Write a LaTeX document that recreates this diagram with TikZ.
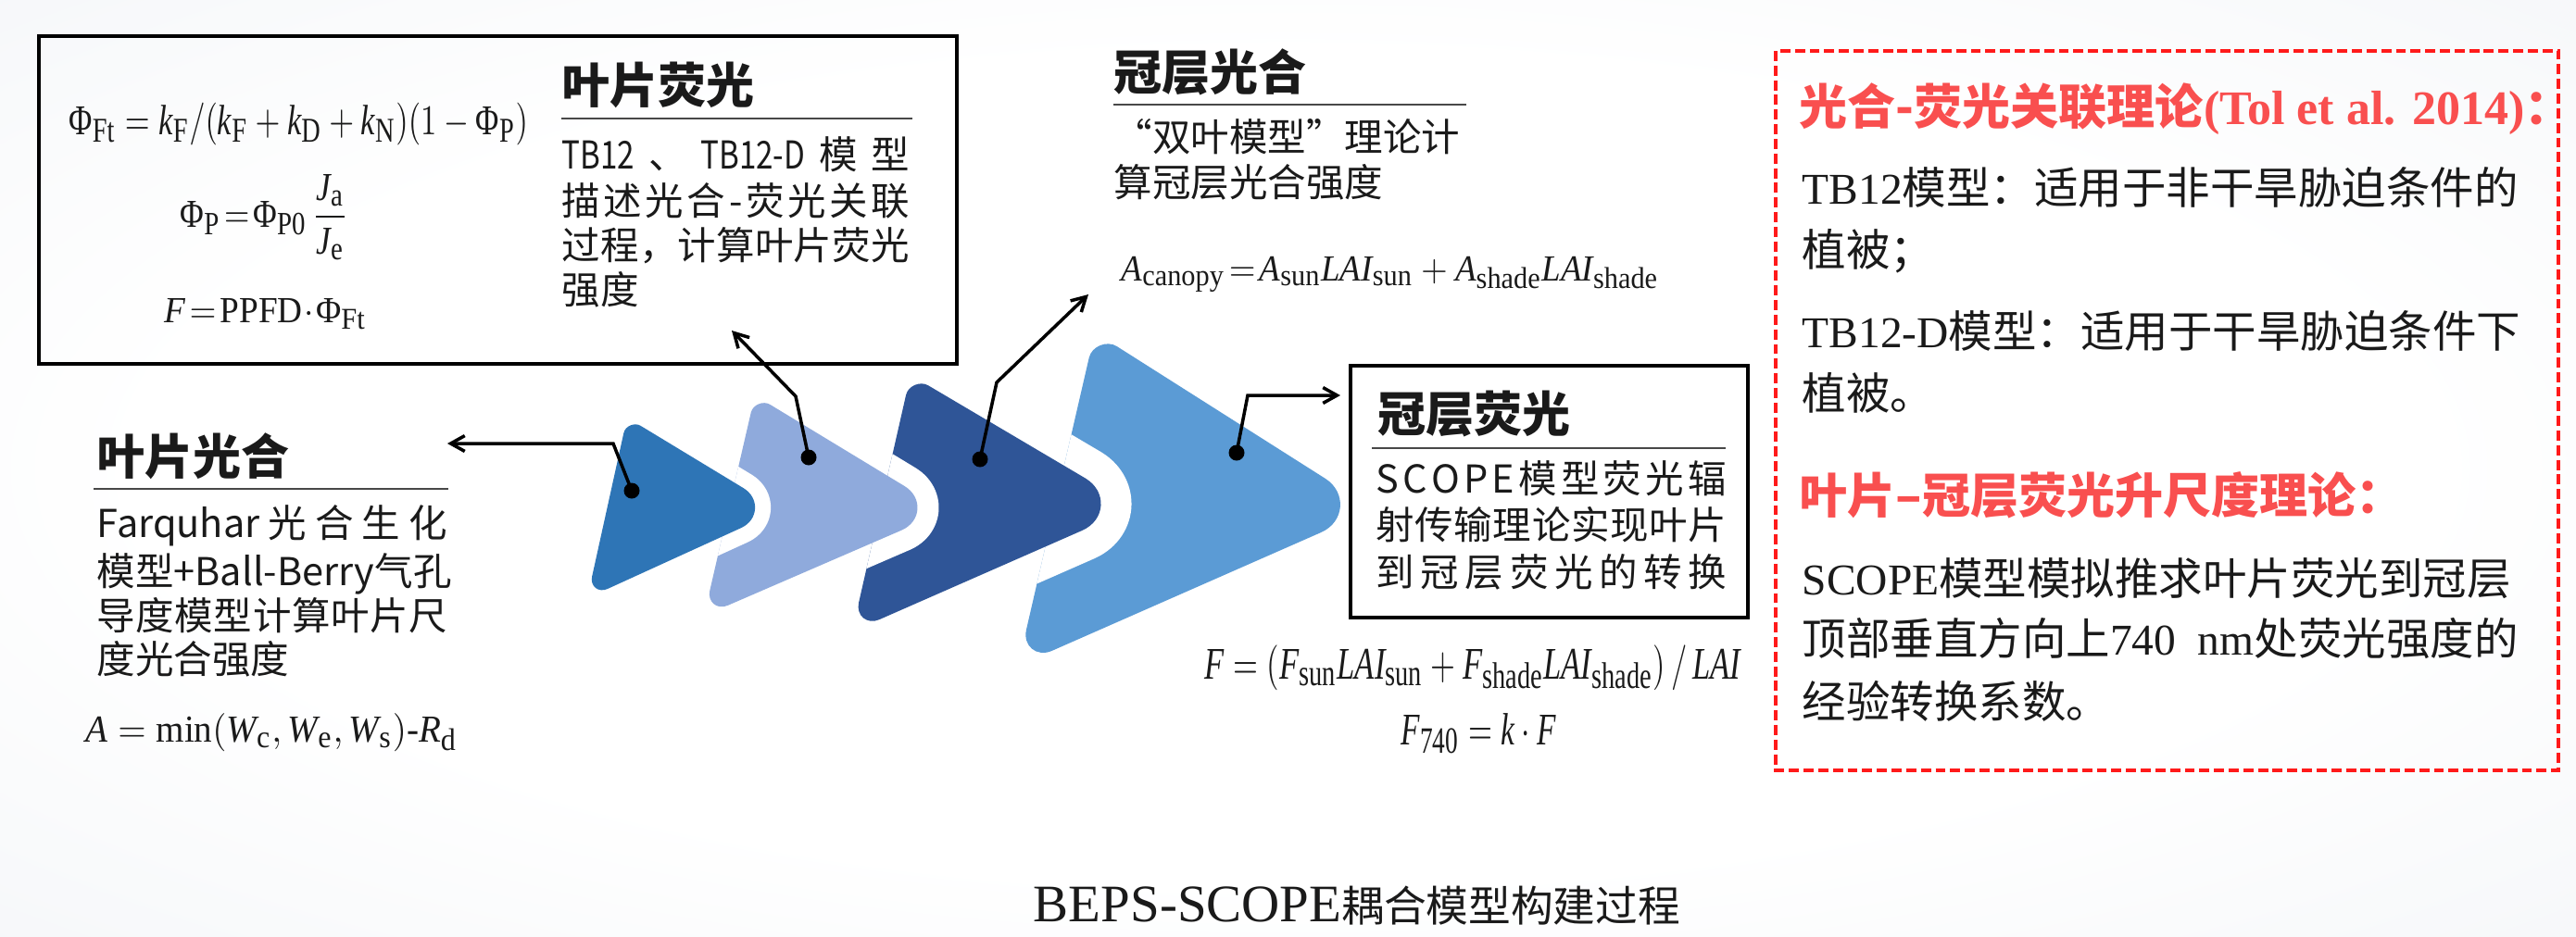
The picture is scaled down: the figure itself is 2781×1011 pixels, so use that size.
\documentclass[tikz,border=0pt]{standalone}
\usepackage{fontspec}
\usepackage{amsmath}
\usepackage{graphicx}
\usetikzlibrary{calc,arrows.meta}
\setmainfont{Noto Sans CJK SC}
\newfontfamily\tnr{Liberation Serif}
\DeclareMathSizes{10}{10}{8.2}{6.5}

\definecolor{chevA}{HTML}{2E75B6}
\definecolor{chevB}{HTML}{8FAADC}
\definecolor{chevC}{HTML}{2F5597}
\definecolor{chevD}{HTML}{5B9BD5}
\definecolor{noteRed}{HTML}{F94F4F}
\definecolor{dashRed}{HTML}{FF1A1A}
\definecolor{bgEdge}{HTML}{EDF0F4}
\definecolor{ink}{HTML}{1A1A1A}

\pgfdeclareradialshading{vignette}{\pgfpoint{0bp}{0bp}}{color(0bp)=(white); color(22bp)=(white); color(50bp)=(bgEdge); color(72bp)=(bgEdge)}

% spread the items of #2 evenly over a line of width #1
\ExplSyntaxOn
\NewDocumentCommand \spreadto { m m }
  { \makebox[#1][s]{ \tl_map_inline:nn {#2} { ##1 \hfill } \unskip } }
\ExplSyntaxOff

% math helpers: glyphs taken from the serif text font
\newcommand\mi[1]{\text{\itshape #1}}
\newcommand\mr[1]{\text{#1}}
% scale a formula to a given width and capital height
\newcommand\capfit[3]{\resizebox{#1}{#2}{\raisebox{0pt}[0.655em][0pt]{#3}}}
% narrow Latin inside a spread line
\newcommand\narrow[1]{\scalebox{0.8}[1]{#1}}

% rounded triangle: corners TL, TIP, BL and the rounding lengths at each
\newcommand\chevpath[6]{%
 ($(#1)!#4!(#3)$) .. controls ($(#1)!0.55*#4!(#3)$) and ($(#1)!0.55*#4!(#2)$) .. ($(#1)!#4!(#2)$)
 -- ($(#2)!#5!(#1)$) .. controls ($(#2)!0.55*#5!(#1)$) and ($(#2)!0.55*#5!(#3)$) .. ($(#2)!#5!(#3)$)
 -- ($(#3)!#6!(#2)$) .. controls ($(#3)!0.55*#6!(#2)$) and ($(#3)!0.55*#6!(#1)$) .. ($(#3)!#6!(#1)$)
 -- cycle}

\newcommand\ttl{\bfseries\fontsize{14.8}{17}\selectfont}
\newcommand\bdy{\fontsize{11.8}{14}\selectfont}
\newcommand\rtl{\bfseries\fontsize{14.8}{17}\selectfont}
\newcommand\rbd{\fontsize{13.5}{16}\selectfont}

\tikzset{
  txt/.style={anchor=base west, inner sep=0pt, text=ink},
  eqn/.style={anchor=base west, inner sep=0pt, text=ink, font=\tnr},
  frame/.style={draw=black, line width=1.15pt},
  rule/.style={draw=ink!80, line width=0.55pt},
  conn/.style={draw=black, line width=1pt, line join=miter, -{Straight Barb[length=4.3pt,width=4.8pt]}},
  dotn/.style={circle, fill=black, inner sep=0pt, minimum size=0.17cm},
  gapcut/.style={draw=white, line join=round},
}

\begin{document}
\begin{tikzpicture}[x=0.01cm, y=-0.01cm]
\useasboundingbox (0,0) rectangle (2781,1011);
\shade[shading=vignette] (0,0) rectangle (2781,1011);

% ---- chevron corners
\coordinate (c1tl) at (677,451);  \coordinate (c1tip) at (842,551);  \coordinate (c1bl) at (634,646);
\coordinate (c2tl) at (815,427);  \coordinate (c2tip) at (1021,552); \coordinate (c2bl) at (760,665);
\coordinate (c3tl) at (983,405);  \coordinate (c3tip) at (1225,548); \coordinate (c3bl) at (920,682);
\coordinate (c4tl) at (1182,359); \coordinate (c4tip) at (1483,550); \coordinate (c4bl) at (1099,719);

\fill[chevD] \chevpath{c4tl}{c4tip}{c4bl}{0.28cm}{0.62cm}{0.40cm};
\begin{scope}
  \clip \chevpath{c4tl}{c4tip}{c4bl}{0.28cm}{0.62cm}{0.40cm};
  \draw[gapcut, line width=0.66cm] \chevpath{c3tl}{c3tip}{c3bl}{0.22cm}{0.62cm}{0.32cm};
\end{scope}
\fill[chevC] \chevpath{c3tl}{c3tip}{c3bl}{0.22cm}{0.62cm}{0.32cm};
\begin{scope}
  \clip \chevpath{c3tl}{c3tip}{c3bl}{0.22cm}{0.62cm}{0.32cm};
  \draw[gapcut, line width=0.46cm] \chevpath{c2tl}{c2tip}{c2bl}{0.19cm}{0.52cm}{0.28cm};
\end{scope}
\fill[chevB] \chevpath{c2tl}{c2tip}{c2bl}{0.19cm}{0.52cm}{0.28cm};
\begin{scope}
  \clip \chevpath{c2tl}{c2tip}{c2bl}{0.19cm}{0.52cm}{0.28cm};
  \draw[gapcut, line width=0.34cm] \chevpath{c1tl}{c1tip}{c1bl}{0.17cm}{0.46cm}{0.24cm};
\end{scope}
\fill[chevA] \chevpath{c1tl}{c1tip}{c1bl}{0.17cm}{0.46cm}{0.24cm};

% ---- frames
\draw[frame] (42,39) rectangle (1033,393);
\draw[frame] (1458,395) rectangle (1887,667);
\draw[dashRed, line width=1pt, dash pattern=on 3.1pt off 1.4pt] (1917,55) rectangle (2762,832);

% ---- leaf fluorescence box
\node[eqn] (phiFt) at (74,145) {\capfit{4.95cm}{0.30cm}{$\mr{Φ}_{\mr{Ft}}=\mi{k}_{\mr{F}}/(\mi{k}_{\mr{F}}+\mi{k}_{\mr{D}}+\mi{k}_{\mr{N}})(1-\mr{Φ}_{\mr{P}})$}};
\node[eqn] (phiP) at (194,245) {\capfit{1.81cm}{0.28cm}{$\mr{Φ}_{\mr{P}}\!=\!\mr{Φ}_{\mr{P0}}\,\dfrac{\mi{J}_{\mr{a}}}{\mi{J}_{\mr{e}}}$}};
\node[eqn] (fPPFD) at (177,348) {\capfit{2.18cm}{0.26cm}{$\mi{F}\!=\!\mr{PPFD}\!\cdot\!\mr{Φ}_{\mr{Ft}}$}};

\node[txt] (lfTitle) at (606,111) {\ttl 叶片荧光};
\coordinate (lfRuleA) at (606,128); \coordinate (lfRuleB) at (985,128);
\draw[rule] (lfRuleA) -- (lfRuleB);
\node[txt] (lfL1) at (606,182) {\bdy\spreadto{3.75cm}{{\narrow{TB12}} 、{\narrow{TB12-D}} 模 型}};
\node[txt] (lfL2) at (606,232) {\bdy\spreadto{3.75cm}{描述光合-荧光关联}};
\node[txt] (lfL3) at (606,280) {\bdy\spreadto{3.75cm}{过程，计算叶片荧光}};
\node[txt] (lfL4) at (606,328) {\bdy 强度};

% ---- canopy photosynthesis
\node[txt] (cpTitle) at (1202,97) {\ttl 冠层光合};
\coordinate (cpRuleA) at (1202,113); \coordinate (cpRuleB) at (1583,113);
\draw[rule] (cpRuleA) -- (cpRuleB);
\node[txt] (cpL1) at (1202,163) {\bdy “双叶模型”理论计};
\node[txt] (cpL2) at (1202,212) {\bdy 算冠层光合强度};
\node[eqn] (aCanopy) at (1210,303) {\capfit{5.8cm}{0.26cm}{$\mi{A}_{\mr{canopy}}\!=\!\mi{A}_{\mr{sun}}\mi{LAI}_{\mr{sun}}+\mi{A}_{\mr{shade}}\mi{LAI}_{\mr{shade}}$}};

% ---- canopy fluorescence box
\node[txt] (cfTitle) at (1487,466) {\ttl 冠层荧光};
\coordinate (cfRuleA) at (1481,484); \coordinate (cfRuleB) at (1863,484);
\draw[rule] (cfRuleA) -- (cfRuleB);
\node[txt] (cfL1) at (1485,532) {\bdy\spreadto{3.78cm}{SCOPE模型荧光辐}};
\node[txt] (cfL2) at (1485,582) {\bdy\spreadto{3.78cm}{射传输理论实现叶片}};
\node[txt] (cfL3) at (1485,633) {\bdy\spreadto{3.78cm}{到冠层荧光的转换}};
\node[eqn] (fCanopy) at (1300,733) {\capfit{5.78cm}{0.32cm}{$\mi{F}=(\mi{F}_{\mr{sun}}\mi{LAI}_{\mr{sun}}+\mi{F}_{\mr{shade}}\mi{LAI}_{\mr{shade}})\,/\,\mi{LAI}$}};
\node[eqn] (f740) at (1512,804) {\capfit{1.67cm}{0.32cm}{$\mi{F}_{\mr{740}}=\mi{k}\cdot\mi{F}$}};

% ---- leaf photosynthesis
\node[txt] (lpTitle) at (104,512) {\ttl 叶片光合};
\coordinate (lpRuleA) at (101,528); \coordinate (lpRuleB) at (484,528);
\draw[rule] (lpRuleA) -- (lpRuleB);
\node[txt] (lpL1) at (104,580) {\bdy\spreadto{3.78cm}{{Farquhar}光合生化}};
\node[txt] (lpL2) at (104,632) {\bdy\spreadto{3.78cm}{模型{+Ball-Berry气孔}}};
\node[txt] (lpL3) at (104,680) {\bdy\spreadto{3.78cm}{导度模型计算叶片尺}};
\node[txt] (lpL4) at (104,727) {\bdy 度光合强度};
\node[eqn] (aLeaf) at (92,801) {\capfit{4.01cm}{0.27cm}{$\mi{A}=\mr{min}(\mi{W}_{\mr{c}},\mi{W}_{\mr{e}},\mi{W}_{\mr{s}})\text{-}\mi{R}_{\mr{d}}$}};

% ---- theory notes
\node[txt, text=noteRed] (ntTitle1) at (1942,134) {\rtl 光合-荧光关联理论{\tnr\bfseries (Tol et al. 2014)}：};
\node[txt] (ntL1) at (1945,220) {\rbd{\tnr TB12}模型：适用于非干旱胁迫条件的};
\node[txt] (ntL2) at (1945,287) {\rbd 植被；};
\node[txt] (ntL3) at (1945,375) {\rbd{\tnr TB12-D}模型：适用于干旱胁迫条件下};
\node[txt] (ntL4) at (1945,442) {\rbd 植被。};
\node[txt, text=noteRed] (ntTitle2) at (1942,554) {\rtl 叶片–冠层荧光升尺度理论：};
\node[txt] (ntL5) at (1945,642) {\rbd{\tnr SCOPE}模型模拟推求叶片荧光到冠层};
\node[txt] (ntL6) at (1945,707) {\rbd 顶部垂直方向上{\tnr 740\ \ nm}处荧光强度的};
\node[txt] (ntL7) at (1945,775) {\rbd 经验转换系数。};

% ---- caption
\node[anchor=base, inner sep=0pt, text=ink] (caption) at (1465,995) {{\tnr\fontsize{16.2}{19}\selectfont BEPS-SCOPE}{\fontsize{13}{16}\selectfont 耦合模型构建过程}};

% ---- connectors from the chevrons
\node[dotn] (dot1) at (682,530) {};
\node[dotn] (dot2) at (873,494) {};
\node[dotn] (dot3) at (1058,496) {};
\node[dotn] (dot4) at (1335,489) {};
\coordinate (bend1) at (662,479);  \coordinate (end1) at (483,479);
\coordinate (bend2) at (859,428);  \coordinate (end2) at (790,357);
\coordinate (bend3) at (1076,413); \coordinate (end3) at (1175,318);
\coordinate (bend4) at (1347,427); \coordinate (end4) at (1447,427);
\draw[conn] (dot1.center) -- (bend1) -- (end1);
\draw[conn] (dot2.center) -- (bend2) -- (end2);
\draw[conn] (dot3.center) -- (bend3) -- (end3);
\draw[conn] (dot4.center) -- (bend4) -- (end4);
\end{tikzpicture}
\end{document}
